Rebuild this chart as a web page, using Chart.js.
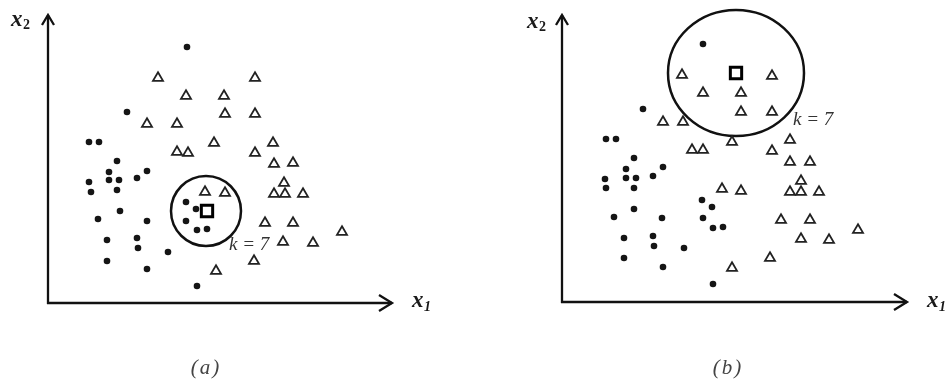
<!DOCTYPE html>
<html>
<head>
<meta charset="utf-8">
<script src="https://cdn.jsdelivr.net/npm/chart.js@4"></script>
<style>
  body { margin: 0; background: #fff; }
  .panel { position: absolute; top: 0; width: 473px; height: 385px; }
</style>
</head>
<body>
<div class="panel" style="left:0"><canvas id="chart-a"></canvas></div>
<div class="panel" style="left:474px"><canvas id="chart-b"></canvas></div>
<script>
// Panel (a): query point sits among the dots
const aDots = [
  [139, 256], [79, 191], [41, 161], [51, 161], [69, 142], [99, 132], [61, 131],
  [61, 123], [71, 123], [89, 125], [41, 121], [43, 111], [69, 113], [72, 92],
  [50, 84], [99, 82], [138, 101], [148, 94], [138, 82], [149, 73], [159, 74],
  [59, 63], [89, 65], [90, 55], [120, 51], [59, 42], [99, 34], [149, 17]
];
const aTriangles = [
  [110, 225], [207, 225], [138, 207], [176, 207], [177, 189], [207, 189], [99, 179],
  [129, 179], [166, 160], [225, 160], [129, 151], [140, 150], [207, 150], [226, 139],
  [245, 140], [236, 120], [226, 109], [237, 109], [255, 109], [157, 111], [177, 110],
  [217, 80], [245, 80], [294, 71], [235, 61], [265, 60], [206, 42], [168, 32]
];
const aQuery = [[159, 92]];
const aRing = { x: 158, y: 92, rx: 35, ry: 35 };
const aLabelPos = [181, 58];

// Panel (b): query point sits among the triangles
const bDots = [
  [141, 258], [81, 193], [44, 163], [54, 163], [72, 144], [101, 135], [64, 133],
  [64, 124], [74, 124], [91, 126], [43, 123], [44, 114], [72, 114], [72, 93],
  [52, 85], [100, 84], [140, 102], [150, 95], [141, 84], [151, 74], [161, 75],
  [62, 64], [91, 66], [92, 56], [122, 54], [62, 44], [101, 35], [151, 18]
];
const bTriangles = [
  [120, 227], [210, 226], [141, 209], [179, 209], [179, 190], [210, 190], [101, 180],
  [121, 180], [170, 160], [228, 162], [130, 152], [141, 152], [210, 151], [228, 140],
  [248, 140], [239, 121], [228, 110], [239, 110], [257, 110], [160, 113], [179, 111],
  [219, 82], [248, 82], [296, 72], [239, 63], [267, 62], [208, 44], [170, 34]
];
const bQuery = [[174, 229]];
const bRing = { x: 174, y: 229, rx: 68, ry: 63 };
const bLabelPos = [231, 182];

const kLabel = "k = 7";

const toPoints = arr => arr.map(p => ({ x: p[0], y: p[1] }));

// axes with arrows, the k-neighbourhood ring and the labels
const decorPlugin = {
  id: "decor",
  beforeDatasetsDraw(chart, args, opts) {
    const { ctx, chartArea: a, scales: { x, y } } = chart;
    ctx.save();
    ctx.strokeStyle = "#111";
    ctx.lineWidth = 2.3;
    ctx.beginPath();
    ctx.moveTo(a.left, a.bottom + 1);
    ctx.lineTo(a.left, a.top);
    ctx.moveTo(a.left - 1, a.bottom);
    ctx.lineTo(a.right, a.bottom);
    ctx.stroke();
    ctx.beginPath();
    ctx.moveTo(a.left - 6, a.top + 10);
    ctx.lineTo(a.left, a.top);
    ctx.lineTo(a.left + 6, a.top + 10);
    ctx.moveTo(a.right - 13, a.bottom - 8);
    ctx.lineTo(a.right, a.bottom);
    ctx.lineTo(a.right - 13, a.bottom + 8);
    ctx.stroke();

    // neighbourhood ring
    const r = opts.ring;
    const cx = x.getPixelForValue(r.x), cy = y.getPixelForValue(r.y);
    const rx = Math.abs(x.getPixelForValue(r.x + r.rx) - cx);
    const ry = Math.abs(y.getPixelForValue(r.y + r.ry) - cy);
    ctx.lineWidth = 2.5;
    ctx.beginPath();
    ctx.ellipse(cx, cy, rx, ry, 0, 0, Math.PI * 2);
    ctx.stroke();
    ctx.restore();
  },
  afterDraw(chart, args, opts) {
    const { ctx, scales: { x, y } } = chart;
    ctx.save();
    ctx.fillStyle = "#1a1a1a";
    ctx.textBaseline = "alphabetic";
    ctx.textAlign = "left";

    // x2 label
    ctx.font = "bold italic 23px 'Liberation Serif'";
    ctx.fillText("x", opts.x2[0], opts.x2[1]);
    ctx.font = "bold 14px 'Liberation Serif'";
    ctx.fillText("2", opts.x2[0] + 12, opts.x2[1] + 3);
    // x1 label
    ctx.font = "bold italic 23px 'Liberation Serif'";
    ctx.fillText("x", opts.x1[0], opts.x1[1]);
    ctx.font = "bold italic 14px 'Liberation Serif'";
    ctx.fillText("1", opts.x1[0] + 12, opts.x1[1] + 4);

    // k = 7
    ctx.fillStyle = "#333";
    ctx.font = "italic 19px 'Liberation Serif'";
    ctx.textBaseline = "middle";
    ctx.fillText(kLabel, x.getPixelForValue(opts.labelPos[0]), y.getPixelForValue(opts.labelPos[1]));

    // caption
    ctx.fillStyle = "#444";
    ctx.font = "italic 21px 'Liberation Serif'";
    ctx.textAlign = "center";
    ctx.letterSpacing = "2px";
    ctx.fillText(opts.caption, opts.captionX, 368);
    ctx.restore();
  }
};

function makePanel(id, dots, triangles, query, xMax, yMax, padding, decor) {
  return new Chart(document.getElementById(id), {
    type: "scatter",
    data: {
      datasets: [
        {
          data: toPoints(dots),
          pointStyle: "circle",
          pointRadius: 3.3,
          backgroundColor: "#151515",
          borderWidth: 0
        },
        {
          data: toPoints(triangles),
          pointStyle: "triangle",
          pointRadius: 5.8,
          backgroundColor: "#fff",
          borderColor: "#222",
          borderWidth: 1.8
        },
        {
          data: toPoints(query),
          pointStyle: "rect",
          pointRadius: 8,
          backgroundColor: "#fff",
          borderColor: "#000",
          borderWidth: 3
        }
      ]
    },
    options: {
      responsive: true,
      maintainAspectRatio: false,
      animation: false,
      events: [],
      layout: { padding },
      plugins: {
        legend: { display: false },
        tooltip: { enabled: false },
        decor
      },
      scales: {
        x: { type: "linear", min: 0, max: xMax, display: false },
        y: { type: "linear", min: 0, max: yMax, display: false }
      }
    },
    plugins: [decorPlugin]
  });
}

makePanel("chart-a", aDots, aTriangles, aQuery, 344, 288,
  { left: 48, top: 15, right: 81, bottom: 82 },
  { ring: aRing, labelPos: aLabelPos, x2: [11, 26], x1: [412, 307], caption: "(a)", captionX: 206 });

makePanel("chart-b", bDots, bTriangles, bQuery, 345, 287,
  { left: 88, top: 15, right: 40, bottom: 83 },
  { ring: bRing, labelPos: bLabelPos, x2: [53, 28], x1: [453, 307], caption: "(b)", captionX: 254 });
</script>
</body>
</html>
